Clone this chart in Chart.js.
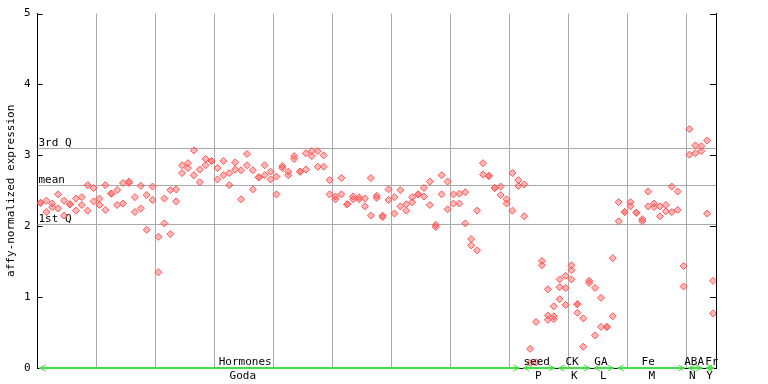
<!DOCTYPE html>
<html><head><meta charset="utf-8">
<script src="https://cdn.jsdelivr.net/npm/chart.js@4/dist/chart.umd.min.js"></script>
<style>html,body{margin:0;padding:0;background:#fff;}#wrap{width:768px;height:384px;position:relative;}</style>
</head><body><div id="wrap"><canvas id="c" width="768" height="384"></canvas></div>
<script>
// replicate values per sample (115 samples)
const rep1 = [2.33,2.36,2.32,2.45,2.36,2.31,2.39,2.41,2.58,2.54,
2.39,2.58,2.46,2.51,2.61,2.63,2.41,2.57,2.44,2.56,
1.85,2.39,2.51,2.52,2.86,2.89,3.07,2.80,2.95,2.92,
2.82,2.92,2.75,2.90,2.79,3.02,2.79,2.69,2.86,2.77,
2.70,2.85,2.77,2.99,2.77,3.03,3.06,3.06,3.00,2.65,
2.42,2.68,2.31,2.42,2.41,2.39,2.68,2.43,2.15,2.52,
2.41,2.51,2.31,2.41,2.45,2.54,2.63,2.02,2.72,2.63,
2.45,2.46,2.48,1.82,2.22,2.89,2.71,2.54,2.56,2.38,
2.75,2.65,2.59,0.27,0.65,1.51,1.11,0.87,1.25,1.30,
1.45,0.90,0.70,1.23,1.13,0.99,0.58,1.55,2.34,2.20,
2.34,2.19,2.10,2.49,2.32,2.28,2.30,2.56,2.49,1.44,
3.37,3.14,3.13,3.21,1.23];
const rep2 = [2.33,2.20,2.27,2.25,2.15,2.31,2.22,2.30,2.22,2.35,
2.30,2.23,2.46,2.30,2.32,2.61,2.20,2.25,1.95,2.37,
1.35,2.04,1.89,2.35,2.75,2.82,2.72,2.62,2.86,2.92,
2.66,2.72,2.58,2.80,2.38,2.86,2.52,2.69,2.72,2.66,
2.45,2.82,2.72,2.95,2.77,2.80,2.99,2.84,2.84,2.45,
2.38,2.45,2.31,2.38,2.38,2.28,2.15,2.40,2.13,2.37,
2.18,2.28,2.22,2.34,2.45,2.42,2.30,1.99,2.45,2.24,
2.32,2.32,2.04,1.73,1.66,2.73,2.71,2.54,2.44,2.32,
2.22,2.57,2.14,0.07,0.08,1.45,0.74,0.73,1.14,1.13,
1.38,0.90,0.30,1.20,0.46,0.58,0.58,0.73,2.07,2.20,
2.28,2.19,2.07,2.28,2.27,2.14,2.21,2.20,2.23,1.15,
3.01,3.03,3.06,2.18,0.77];
const rep3Index = [86,87,88,89,90,91];
const rep3Values = [0.68,0.69,0.97,0.89,1.25,0.78];

const yTicks = [0,1,2,3,4,5];
const refNames = ['3rd Q','mean','1st Q'];
const refValues = [3.10,2.58,2.03];

const groupNames = ['Hormones','seed','CK','GA','Fe','ABA','Fr'];
const groupCodes = ['Goda','P','K','L','M','N','Y'];
const groupStart = [0,82,88,94,98,110,113];
const groupEnd   = [81,87,93,97,109,112,114];
const nameAt = [34.7,84.1,90.1,95.0,103.0,110.8,113.8];
const codeAt = [34.3,84.4,90.5,95.4,103.6,110.5,113.4];

const N = rep1.length;
const gridAt = [];
for (let k = 10; k < N; k += 10) gridAt.push(k - 0.5);

const FONT = 'DejaVu Sans Mono';
const RED = '#ff5555';

function pts(arr){ return arr.map((v,i)=>({x:i,y:v})); }
const pointStyle = {
  showLine:false, pointStyle:'rectRot', pointRadius:3.5, pointBorderWidth:1,
  borderColor:RED, backgroundColor:'rgba(255,85,85,0.42)', pointBackgroundColor:'rgba(255,85,85,0.42)', pointBorderColor:RED
};

const deco = {
  id:'deco',
  beforeDatasetsDraw(chart){
    const ctx = chart.ctx, a = chart.chartArea, y = chart.scales.y;
    ctx.save();
    ctx.strokeStyle = '#aaaaaa'; ctx.lineWidth = 1;
    ctx.font = '11px "' + FONT + '"'; ctx.fillStyle = '#000';
    ctx.textAlign = 'left'; ctx.textBaseline = 'alphabetic';
    refValues.forEach((v,i)=>{
      const py = Math.round(y.getPixelForValue(v)) + 0.5;
      ctx.beginPath(); ctx.moveTo(a.left, py); ctx.lineTo(a.right, py); ctx.stroke();
      ctx.fillText(refNames[i], a.left + 1, py - 3);
    });
    ctx.restore();
  },
  afterDraw(chart){
    const ctx = chart.ctx, a = chart.chartArea, x = chart.scales.x, y = chart.scales.y;
    ctx.save();
    // inward ticks
    ctx.strokeStyle = '#000'; ctx.lineWidth = 1;
    yTicks.forEach(v=>{
      const py = Math.round(y.getPixelForValue(v)) + 0.5;
      ctx.beginPath();
      ctx.moveTo(a.left, py); ctx.lineTo(a.left + 5, py);
      ctx.moveTo(a.right - 6, py); ctx.lineTo(a.right, py);
      ctx.stroke();
    });
    // group arrows
    const y0 = y.getPixelForValue(0);
    ctx.strokeStyle = '#44dd44'; ctx.lineWidth = 2;
    groupStart.forEach((s,i)=>{
      const x1 = x.getPixelForValue(s - 0.5) + 2;
      const x2 = x.getPixelForValue(groupEnd[i] + 0.5) - 2;
      ctx.beginPath(); ctx.moveTo(x1, y0); ctx.lineTo(x2, y0); ctx.stroke();
      ctx.lineWidth = 1;
      ctx.beginPath();
      ctx.moveTo(x1 + 6, y0 - 3); ctx.lineTo(x1, y0); ctx.lineTo(x1 + 6, y0 + 3);
      ctx.moveTo(x2 - 6, y0 - 3); ctx.lineTo(x2, y0); ctx.lineTo(x2 - 6, y0 + 3);
      ctx.stroke();
      ctx.lineWidth = 2;
    });
    // group labels
    ctx.fillStyle = '#000'; ctx.font = '11px "' + FONT + '"';
    ctx.textAlign = 'center'; ctx.textBaseline = 'middle';
    groupNames.forEach((n,i)=>{ ctx.fillText(n, x.getPixelForValue(nameAt[i]), y0 - 6); });
    groupCodes.forEach((n,i)=>{ ctx.fillText(n, x.getPixelForValue(codeAt[i]), y0 + 8.5); });
    ctx.restore();
  }
};

new Chart(document.getElementById('c'), {
  type:'scatter',
  data:{ datasets:[
    Object.assign({label:'rep1', data:pts(rep1)}, pointStyle),
    Object.assign({label:'rep2', data:pts(rep2)}, pointStyle),
    Object.assign({label:'rep3', data:rep3Index.map((ix,k)=>({x:ix,y:rep3Values[k]}))}, pointStyle)
  ]},
  options:{
    responsive:false, animation:false, devicePixelRatio:1,
    layout:{padding:{left:0,right:52,top:13,bottom:16}},
    plugins:{legend:{display:false}, tooltip:{enabled:false}},
    scales:{
      x:{type:'linear', min:-0.5, max:N-0.5,
         afterBuildTicks:s=>{ s.ticks = gridAt.map(v=>({value:v})); },
         ticks:{display:false},
         grid:{color:'#aaaaaa', lineWidth:1, drawTicks:false},
         border:{display:true, color:'#000', width:1},
         afterFit:s=>{ s.height = 0; }},
      y:{min:0, max:5,
         afterBuildTicks:s=>{ s.ticks = yTicks.map(v=>({value:v})); },
         ticks:{color:'#000', font:{family:FONT, size:11}, padding:7},
         grid:{display:false, drawTicks:false},
         border:{display:true, color:'#000', width:1},
         title:{display:true, text:'affy-normalized expression', color:'#000', font:{family:FONT, size:11}, padding:{top:5,bottom:0}},
         afterFit:s=>{ s.width = 37.5; }},
      y2:{position:'right', min:0, max:5,
         ticks:{display:false}, grid:{display:false, drawTicks:false},
         border:{display:true, color:'#000', width:1},
         afterFit:s=>{ s.width = 0; }}
    }
  },
  plugins:[deco]
});
</script></body></html>
